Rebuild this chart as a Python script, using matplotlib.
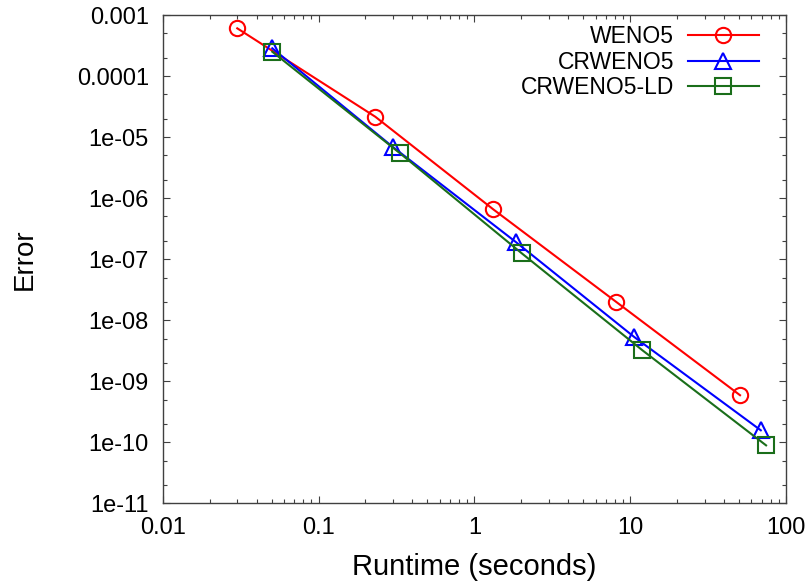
import matplotlib
matplotlib.use("Agg")
import matplotlib.pyplot as plt
from matplotlib.ticker import LogLocator, NullFormatter, FixedLocator, FixedFormatter
import numpy as np

# Runtime (s) vs. error for each scheme
weno5_time = [0.0301, 0.2316, 1.324, 8.12, 50.7]
weno5_err = [6.05e-4, 2.15e-5, 6.53e-7, 2.0e-8, 5.9e-10]

crweno5_time = [0.0505, 0.299, 1.84, 10.6, 68.9]
crweno5_err = [2.85e-4, 6.93e-6, 1.92e-7, 5.32e-9, 1.57e-10]

crweno5ld_time = [0.0505, 0.334, 2.02, 11.97, 74.5]
crweno5ld_err = [2.5e-4, 5.4e-6, 1.24e-7, 3.22e-9, 8.9e-11]

series_labels = ["WENO5", "CRWENO5", "CRWENO5-LD"]

x_ticks = [0.01, 0.1, 1, 10, 100]
x_ticklabels = ["0.01", "0.1", "1", "10", "100"]
y_ticks = [1e-11, 1e-10, 1e-9, 1e-8, 1e-7, 1e-6, 1e-5, 1e-4, 1e-3]
y_ticklabels = ["1e-11", "1e-10", "1e-09", "1e-08", "1e-07", "1e-06",
                "1e-05", "0.0001", "0.001"]

plt.rcParams['font.family'] = ['Liberation Sans', 'DejaVu Sans']

W, H = 812, 582
fig = plt.figure(figsize=(W / 100, H / 100), dpi=100)
left, right, top, bottom = 162.7, 786.0, 15.0, 503.3
ax = fig.add_axes([left / W, 1 - bottom / H, (right - left) / W, (bottom - top) / H])

lw = 1.5
ms = 11.0
mew = 1.5
ax.plot(weno5_time, weno5_err, color='#ff0000', lw=lw, marker='o', ms=ms,
        mew=mew, mfc='none', label=series_labels[0])
ax.plot(crweno5_time, crweno5_err, color='#0000ff', lw=lw, marker='^', ms=ms,
        mew=mew, mfc='none', label=series_labels[1])
ax.plot(crweno5ld_time, crweno5ld_err, color='#1a6e1a', lw=lw, marker='s', ms=ms,
        mew=mew, mfc='none', label=series_labels[2])

ax.set_xscale('log')
ax.set_yscale('log')
ax.set_xlim(0.01, 100)
ax.set_ylim(1e-11, 1e-3)

ax.xaxis.set_major_locator(FixedLocator(x_ticks))
ax.xaxis.set_major_formatter(FixedFormatter(x_ticklabels))
ax.xaxis.set_minor_locator(LogLocator(base=10, subs=np.arange(2, 10)))
ax.xaxis.set_minor_formatter(NullFormatter())

ax.yaxis.set_major_locator(FixedLocator(y_ticks))
ax.yaxis.set_major_formatter(FixedFormatter(y_ticklabels))
ax.yaxis.set_minor_locator(LogLocator(base=10, subs=[2.0, 5.0], numticks=20))
ax.yaxis.set_minor_formatter(NullFormatter())

ax.tick_params(which='both', direction='in', top=True, right=True,
               colors='#404040', labelcolor='black', width=0.8)
ax.tick_params(which='major', length=5.0, labelsize=17, pad=10)
ax.tick_params(which='minor', length=3.0)
for sp in ax.spines.values():
    sp.set_color('#404040')
    sp.set_linewidth(1.0)

ax.set_xlabel("Runtime (seconds)", fontsize=21, labelpad=10)
ax.set_ylabel("Error", fontsize=20, labelpad=28)

leg = ax.legend(loc='upper right', bbox_to_anchor=((759 - left) / (right - left), 0.979),
                frameon=False, markerfirst=False, fontsize=16.5,
                handlelength=3.1, handletextpad=0.6, labelspacing=0.1,
                borderpad=0, borderaxespad=0)

fig.savefig("out.png", dpi=100)
